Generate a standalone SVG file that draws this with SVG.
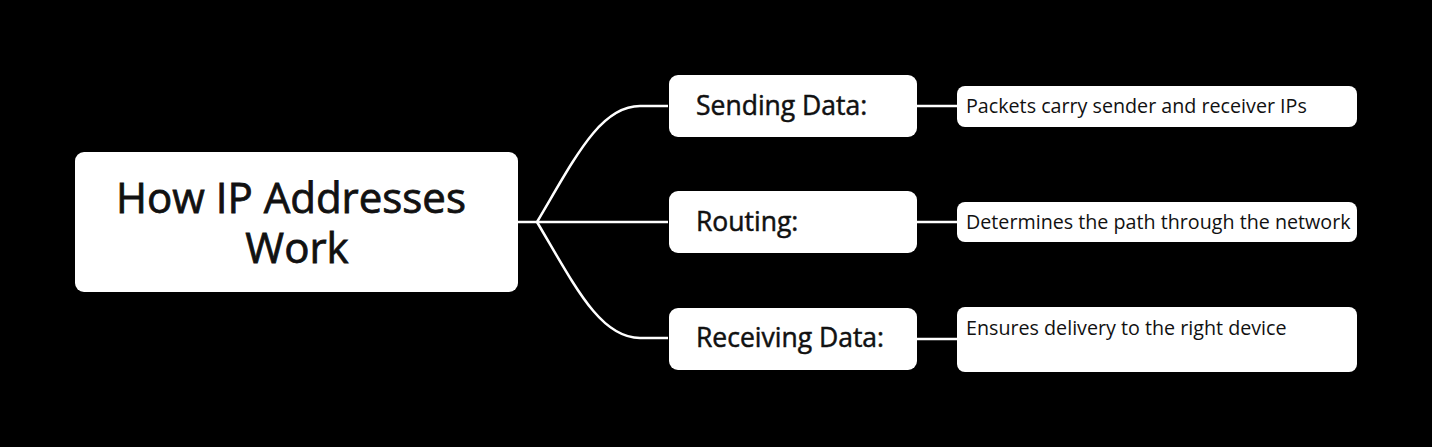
<svg xmlns="http://www.w3.org/2000/svg" width="1432" height="447" viewBox="0 0 1432 447">
<style>
.box{fill:#ffffff}
.conn{fill:none;stroke:#ffffff;stroke-width:2.5}
.root{font-family:"Open Sans","Liberation Sans",sans-serif;font-size:42px;fill:#111111;stroke:#111111;stroke-width:0.8}
.mid{font-family:"Open Sans","Liberation Sans",sans-serif;font-size:26.5px;fill:#111111;stroke:#111111;stroke-width:0.5}
.leaf{font-family:"Open Sans","Liberation Sans",sans-serif;font-size:19.7px;fill:#111111}
</style>
<rect width="1432" height="447" fill="#000000"/>
<g id="connectors">
<path class="conn" d="M518,222 H537 C575,158 600,106 640,106 H668"/>
<path class="conn" d="M537,222 H668"/>
<path class="conn" d="M537,222 C575,286 600,338 640,338 H668"/>
<path class="conn" d="M917,106 H957"/>
<path class="conn" d="M917,222 H957"/>
<path class="conn" d="M917,339 H957"/>
</g>
<g id="root">
<rect class="box" x="75" y="152" width="443" height="140" rx="9"/>
<text class="root" text-anchor="middle"><tspan x="291" y="213">How IP Addresses</tspan><tspan x="297" y="263">Work</tspan></text>
</g>
<g id="sending">
<rect class="box" x="669" y="75" width="248" height="62" rx="9"/>
<text class="mid" x="696" y="115">Sending Data:</text>
</g>
<g id="routing">
<rect class="box" x="669" y="191" width="248" height="62" rx="9"/>
<text class="mid" x="696" y="231">Routing:</text>
</g>
<g id="receiving">
<rect class="box" x="669" y="308" width="248" height="62" rx="9"/>
<text class="mid" x="696" y="347">Receiving Data:</text>
</g>
<g id="leaf1">
<rect class="box" x="957" y="86" width="400" height="41" rx="8"/>
<text class="leaf" x="966" y="113">Packets carry sender and receiver IPs</text>
</g>
<g id="leaf2">
<rect class="box" x="957" y="202" width="400" height="40" rx="8"/>
<text class="leaf" x="966" y="229">Determines the path through the network</text>
</g>
<g id="leaf3">
<rect class="box" x="957" y="307" width="400" height="65" rx="8"/>
<text class="leaf" x="966" y="335">Ensures delivery to the right device</text>
</g>
</svg>
